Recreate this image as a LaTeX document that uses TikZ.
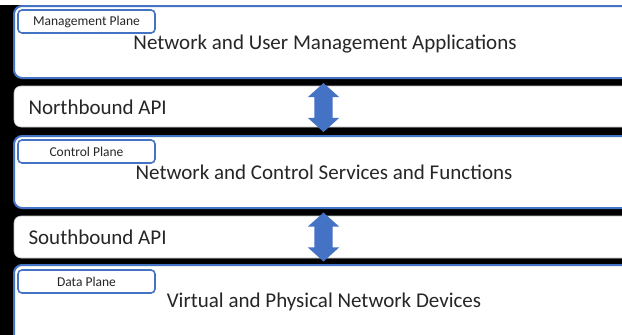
\documentclass[tikz,border=0pt]{standalone}
\usepackage{fontspec}
\setmainfont{Carlito}
\usetikzlibrary{shapes.arrows}
\definecolor{planeblue}{RGB}{68,114,196}
\tikzset{
  plane/.style={draw=planeblue, line width=2pt, fill=white, rounded corners=8pt},
  api/.style={draw=gray!50, line width=.6pt, fill=white, rounded corners=7pt},
  tag/.style={draw=planeblue, line width=1.6pt, fill=white, rounded corners=4pt,
    minimum width=137pt, minimum height=23pt, inner sep=0pt, text=black!85,
    font=\fontsize{13.5}{14}\selectfont},
  big/.style={text=black!85, font=\fontsize{21}{22}\selectfont},
  updown/.style={double arrow, fill=planeblue, rotate=90, inner xsep=0pt,
    inner ysep=9pt, minimum height=49pt, double arrow head extend=6.5pt,
    double arrow tip angle=96}
}
\begin{document}
\begin{tikzpicture}[x=1pt,y=-1pt]
\useasboundingbox (0,0) rectangle (622,335);
\begin{scope}
\clip (0,0) rectangle (622,335);
\fill[black] (0,5) rectangle (622,335);
% planes
\draw[plane] (14,6) rectangle (700,78);
\draw[plane] (14,136) rectangle (700,208);
\draw[plane] (14,265) rectangle (700,360);
% interfaces
\draw[api] (14,86) rectangle (700,127);
\draw[api] (14,216) rectangle (700,258);
\end{scope}
% tags
\node[tag] (mgmttag) at (86.5,21.5) {Management Plane};
\node[tag] (ctrltag) at (86.5,151.5) {Control Plane};
\node[tag] (datatag) at (86.5,281.5) {Data Plane};
% texts
\node[big] (mgmttxt) at (325,44) {Network and User Management Applications};
\node[big] (ctrltxt) at (324,172) {Network and Control Services and Functions};
\node[big] (datatxt) at (324,302) {Virtual and Physical Network Devices};
\node[big, anchor=west] (nbtxt) at (25,107) {Northbound API};
\node[big, anchor=west] (sbtxt) at (25,237) {Southbound API};
% arrows
\node[updown] (nbarrow) at (323.5,107.5) {};
\node[updown] (sbarrow) at (323.5,237) {};
\end{tikzpicture}
\end{document}
